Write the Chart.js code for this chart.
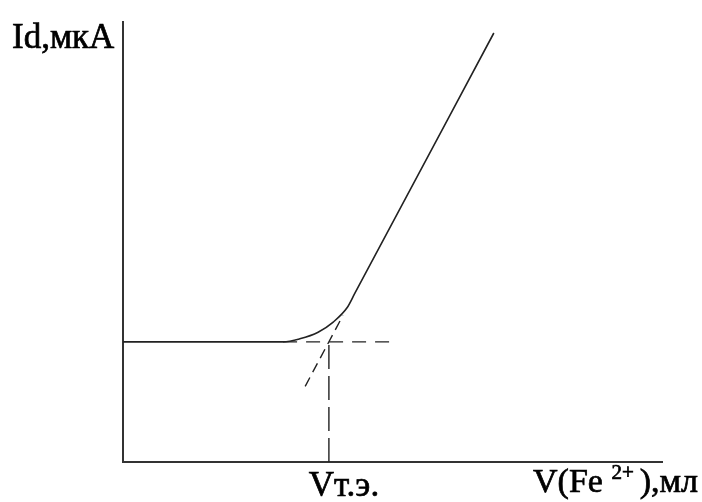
<!DOCTYPE html>
<html>
<head>
<meta charset="utf-8">
<script src="https://cdn.jsdelivr.net/npm/chart.js@4"></script>
<style>
  body { margin: 0; background: #fff; }
  canvas { display: block; }
</style>
</head>
<body>
<canvas id="chart" width="702" height="502"></canvas>
<script>
// amperometric titration curve, arbitrary units (no ticks on the axes)
const volume = [0, 2.97, 3.28, 3.62, 3.90, 4.16, 4.30, 6.88];
const current = [2.73, 2.73, 2.80, 2.95, 3.18, 3.51, 3.83, 9.75];

// dashed construction lines for the equivalence point
const eqVolume = 3.82;
const eqCurrent = 2.73;
const plateauDashX = [2.97, 5.01];
const tangentX = [3.38, 4.08];
const tangentY = [1.72, 3.33];

const ink = "#222";
const serif = "35px 'Liberation Serif'";

// fill plus a thin stroke so the serif text is a bit heavier
function heavyText(ctx, text, x, y) {
  ctx.fillText(text, x, y);
  ctx.strokeText(text, x, y);
}

const labels = {
  id: "afterDraw",
  afterDraw(chart) {
    const ctx = chart.ctx;
    const x = chart.scales.x;
    ctx.save();
    ctx.fillStyle = "#000";
    ctx.strokeStyle = "#000";
    ctx.lineWidth = 0.7;
    ctx.textBaseline = "alphabetic";
    ctx.font = serif;
    ctx.textAlign = "left";
    heavyText(ctx, "Id,мкА", 12, 48);

    ctx.textAlign = "center";
    heavyText(ctx, "Vт.э.", x.getPixelForValue(eqVolume) + 15, 496);

    // V(Fe 2+),мл with a raised charge
    ctx.textAlign = "left";
    let px = 533;
    const base = 492;
    ctx.font = "34px 'Liberation Serif'";
    heavyText(ctx, "V(Fe ", px, base);
    px += ctx.measureText("V(Fe ").width;
    ctx.font = "21px 'Liberation Serif'";
    heavyText(ctx, "2+", px, base - 13);
    px += ctx.measureText("2+").width + 6;
    ctx.font = "34px 'Liberation Serif'";
    heavyText(ctx, "),мл", px, base);
    ctx.restore();
  }
};

new Chart(document.getElementById("chart"), {
  type: "scatter",
  data: {
    datasets: [
      {
        data: volume.map((v, i) => ({x: v, y: current[i]})),
        showLine: true,
        borderColor: ink,
        borderWidth: 1.6,
        cubicInterpolationMode: "monotone",
        pointRadius: 0
      },
      {
        data: plateauDashX.map(v => ({x: v, y: eqCurrent})),
        showLine: true,
        borderColor: ink,
        borderWidth: 1.4,
        borderDash: [14, 9],
        pointRadius: 0
      },
      {
        data: [{x: eqVolume, y: 0}, {x: eqVolume, y: eqCurrent}],
        showLine: true,
        borderColor: ink,
        borderWidth: 1.4,
        borderDash: [24, 7],
        pointRadius: 0
      },
      {
        data: tangentX.map((v, i) => ({x: v, y: tangentY[i]})),
        showLine: true,
        borderColor: ink,
        borderWidth: 1.4,
        borderDash: [10, 6],
        pointRadius: 0
      }
    ]
  },
  options: {
    responsive: false,
    animation: false,
    devicePixelRatio: 1,
    layout: { padding: { left: 123, right: 40, top: 22, bottom: 40 } },
    plugins: { legend: { display: false }, tooltip: { enabled: false } },
    scales: {
      x: {
        type: "linear", min: 0, max: 10,
        grid: { display: false, drawTicks: false },
        ticks: { display: false },
        border: { color: "#333", width: 2 }
      },
      y: {
        min: 0, max: 10,
        grid: { display: false, drawTicks: false },
        ticks: { display: false },
        border: { color: "#333", width: 2 }
      }
    }
  },
  plugins: [labels]
});
</script>
</body>
</html>
